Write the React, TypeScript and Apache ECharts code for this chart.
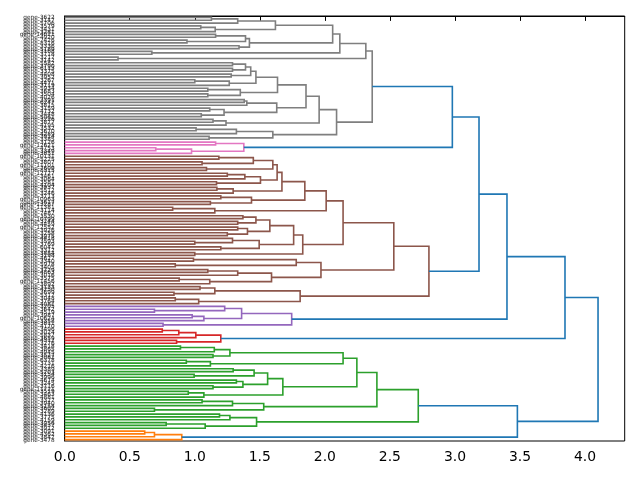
import React, { useEffect, useRef } from "react";
import * as echarts from "echarts";

// ---- leaf labels, per cluster, top to bottom ----
const GRAY_LABELS = ["gene-3622","gene-3147","gene-5706","gene-3579","gene-3431","gene-3281","gene-14021","gene-4920","gene-7426","gene-8316","gene-3336","gene-5189","gene-3168","gene-3718","gene-3217","gene-3142","gene-5582","gene-3790","gene-6113","gene-3375","gene-4408","gene-3952","gene-3267","gene-4471","gene-3119","gene-5934","gene-3683","gene-3504","gene-4026","gene-3391","gene-6247","gene-3815","gene-3159","gene-4732","gene-3448","gene-5061","gene-3226","gene-3877","gene-4195","gene-3532","gene-3670","gene-4289","gene-3914","gene-3385"];
const PINK_LABELS = ["gene-3126","gene-12621","gene-4753","gene-3349","gene-3851"];
const BROWN_LABELS = ["gene-10131","gene-5225","gene-3807","gene-11101","gene-7609","gene-8315","gene-12727","gene-3461","gene-3064","gene-3581","gene-4104","gene-3937","gene-5512","gene-3246","gene-3713","gene-10963","gene-3617","gene-13287","gene-11381","gene-3114","gene-7487","gene-3530","gene-10799","gene-3244","gene-4459","gene-12552","gene-3926","gene-3258","gene-3075","gene-4418","gene-3593","gene-3769","gene-6041","gene-3312","gene-3854","gene-3198","gene-4627","gene-3340","gene-5978","gene-3405","gene-3729","gene-4863","gene-3016","gene-3575","gene-11456","gene-3892","gene-3133","gene-4250","gene-3699","gene-5317","gene-3048","gene-3764","gene-4081"];
const PURPLE_LABELS = ["gene-3205","gene-3642","gene-4519","gene-3987","gene-10624","gene-3358","gene-3811","gene-4170"];
const RED_LABELS = ["gene-3496","gene-3024","gene-5837","gene-3659","gene-4312","gene-3276"];
const GREEN_LABELS = ["gene-3418","gene-3865","gene-4945","gene-3527","gene-3082","gene-6378","gene-3731","gene-4216","gene-3389","gene-5203","gene-3154","gene-3996","gene-4674","gene-3245","gene-3716","gene-11721","gene-3519","gene-3463","gene-4881","gene-3327","gene-3940","gene-5158","gene-3602","gene-3289","gene-4136","gene-3775","gene-4159","gene-3056","gene-3437","gene-3912"];
const ORANGE_LABELS = ["gene-3091","gene-4362","gene-3847","gene-3478"];

// ---- cluster trees: [mergeHeight, upper child, lower child]; numbers are leaf indices ----
const GRAY_TREE = [2.364,
  [2.315,
    [2.115,
      [2.06,
        [1.62, [1.33, [1.128, 0, 1], 2], [1.157, [1.046, 3, 4], 5]],
        [1.42, [1.39, [1.16, 6, 7], [0.94, 8, 9]], [1.34, 10, 11]]],
      [0.67, 12, 13]],
    [0.41, 14, 15]],
  [2.09,
    [1.956,
      [1.855,
        [1.636,
          [1.47, [1.43, [1.39, [1.29, 16, 17], [1.29, 18, 19]], [1.28, 20, 21]], [1.265, [1.0, 22, 23], 24]],
          [1.35, [1.10, 25, 26], [1.10, 27, 28]]],
        [1.63, [1.40, [1.38, 29, 30], 31], [1.225, [1.115, 32, 33], [1.05, 34, 35]]]],
      [1.24, [1.14, 36, 37], 38]],
    [1.60, [1.32, [1.01, 39, 40], 41], [1.11, 42, 43]]]];

const PINK_TREE = [1.377, [1.16, 0, 1], [0.975, [0.70, 2, 3], 4]];

const BROWN_TREE = [2.80,
  [2.53,
    [2.14,
      [2.01,
        [1.846,
          [1.67,
            [1.633,
              [1.60, [1.45, [1.185, 0, 1], [1.056, 2, 3]], [1.09, 4, 5]],
              [1.505, [1.385, [1.25, 6, 7], 8], [1.167, 9, 10]]],
            [1.295, [1.17, 11, 12], 13]],
          [1.436, [1.2, 14, 15], [1.12, 16, 17]]],
        [1.154, [0.83, 18, 19], 20]],
      [1.83,
        [1.76,
          [1.577, [1.47, [1.37, 21, 22], [1.33, 23, 24]], [1.405, [1.33, 25, 26], [1.25, 27, 28]]],
          [1.495, [1.29, 29, [1.0, 30, 31]], [1.2, 32, 33]]],
        [1.0, 34, 35]]],
    [1.97,
      [1.78, [0.99, 36, 37], [0.85, 38, 39]],
      [1.59, [1.33, [1.10, 40, 41], 42], [1.115, [0.88, 43, 44], 45]]]],
  [1.81, [1.154, [1.04, 46, 47], [0.84, 48, 49]], [1.03, [0.85, 50, 51], 52]]];

const PURPLE_TREE = [1.745, [1.36, [1.23, 0, [0.69, 1, 2]], [1.07, [0.98, 3, 4], 5]], [0.756, 6, 7]];

const RED_TREE = [1.20, [1.008, [0.877, [0.75, 0, 1], 2], 3], [0.86, 4, 5]];

const GREEN_TREE = [2.718,
  [2.40,
    [2.246,
      [2.14, [1.27, [1.15, [0.89, 0, 1], 2], [1.14, 3, 4]], [1.12, [0.935, 5, 6], 7]],
      [1.677,
        [1.56, [1.456, [1.295, 8, 9], [0.995, 10, 11]], [1.37, [1.32, 12, 13], [1.14, 14, 15]]],
        [1.07, [0.95, 16, 17], 18]]],
    [1.53, [1.29, [1.056, 19, 20], 21], [0.69, 22, 23]]],
  [1.475, [1.27, [1.19, 24, 25], 26], [1.08, [0.78, 27, 28], 29]]];

const ORANGE_TREE = [0.90, [0.69, [0.615, 0, 1], 2], 3];

// ---- merges above the colour threshold, joining the clusters ----
const TOP_TREE = [4.10, [3.846, [3.40, [3.185, [2.98, "gray", "pink"], "brown"], "purple"], "red"], [3.48, "green", "orange"]];

const X_TICKS = [0, 0.5, 1.0, 1.5, 2.0, 2.5, 3.0, 3.5, 4.0];

const ABOVE_COLOR = "#1f77b4";
const CLUSTERS: Record<string, { tree: any; labels: string[]; color: string }> = {
  gray: { tree: GRAY_TREE, labels: GRAY_LABELS, color: "#7f7f7f" },
  pink: { tree: PINK_TREE, labels: PINK_LABELS, color: "#e377c2" },
  brown: { tree: BROWN_TREE, labels: BROWN_LABELS, color: "#8c564b" },
  purple: { tree: PURPLE_TREE, labels: PURPLE_LABELS, color: "#9467bd" },
  red: { tree: RED_TREE, labels: RED_LABELS, color: "#d62728" },
  green: { tree: GREEN_TREE, labels: GREEN_LABELS, color: "#2ca02c" },
  orange: { tree: ORANGE_TREE, labels: ORANGE_LABELS, color: "#ff7f0e" },
};

function buildDendrogram() {
  const labels: string[] = [];
  const colors: string[] = [ABOVE_COLOR];
  const links: number[][] = [];
  const colorIndex = (c: string) => {
    let i = colors.indexOf(c);
    if (i < 0) { colors.push(c); i = colors.length - 1; }
    return i;
  };
  const walk = (node: any, cluster: string | null): { y: number; h: number } => {
    if (typeof node === "string") return walk(CLUSTERS[node].tree, node);
    if (typeof node === "number") {
      const y = labels.length + 0.5;
      labels.push(CLUSTERS[cluster as string].labels[node]);
      return { y, h: 0 };
    }
    const [h, a, b] = node;
    const l = walk(a, cluster);
    const r = walk(b, cluster);
    const c = cluster ? CLUSTERS[cluster].color : ABOVE_COLOR;
    links.push([l.h, l.y, h, r.y, r.h, colorIndex(c)]);
    return { y: (l.y + r.y) / 2, h };
  };
  walk(TOP_TREE, null);
  return { labels, links, colors };
}

export default function App() {
  const ref = useRef<HTMLDivElement>(null);
  useEffect(() => {
    if (!ref.current) return;
    const chart = echarts.init(ref.current, undefined, { renderer: "svg" });
    const { labels, links, colors } = buildDendrogram();
    const n = labels.length;
    const maxH = (TOP_TREE[0] as number) * 1.05;
    const font = "DejaVu Sans";
    chart.setOption({
      animation: false,
      grid: {
        left: 64.7, top: 16, width: 560, height: 425,
        show: true, borderColor: "#000", borderWidth: 1, backgroundColor: "transparent",
      },
      xAxis: {
        type: "value", min: 0, max: maxH, interval: 0.5,
        axisLine: { show: true, lineStyle: { color: "#000", width: 1 } },
        axisTick: { show: true, length: 4.9, lineStyle: { color: "#000", width: 1 },
          customValues: X_TICKS },
        axisLabel: {
          color: "#000", fontSize: 13.9, fontFamily: font, margin: 8,
          customValues: X_TICKS,
          formatter: (v: number) => v.toFixed(1),
        },
        splitLine: { show: false },
      },
      yAxis: [
        {
          type: "category", data: labels, inverse: true, boundaryGap: true,
          axisLine: { show: true, lineStyle: { color: "#000", width: 1 } },
          axisTick: { show: false },
          axisLabel: { interval: 0, fontSize: 5.8, fontFamily: font, color: "#222", margin: 10 },
          splitLine: { show: false },
        },
        {
          type: "value", min: 0, max: n, inverse: true, show: false,
          splitLine: { show: false },
        },
      ],
      series: [
        {
          type: "custom",
          xAxisIndex: 0,
          yAxisIndex: 1,
          clip: false,
          data: links,
          renderItem: (_params: any, api: any) => {
            const p1 = api.coord([api.value(0), api.value(1)]);
            const p2 = api.coord([api.value(2), api.value(1)]);
            const p3 = api.coord([api.value(2), api.value(3)]);
            const p4 = api.coord([api.value(4), api.value(3)]);
            return {
              type: "polyline",
              shape: { points: [p1, p2, p3, p4] },
              style: { stroke: colors[api.value(5)], fill: "none", lineWidth: 1.6 },
            };
          },
        },
      ],
    });
    return () => chart.dispose();
  }, []);
  return (
    <div
      ref={ref}
      style={{ position: "fixed", left: 0, top: 0, width: 640, height: 480, willChange: "transform" }}
    />
  );
}
